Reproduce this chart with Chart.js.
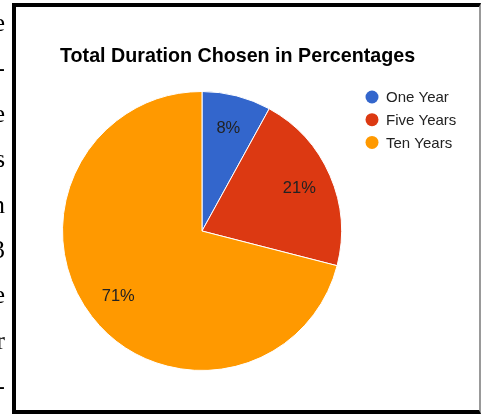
<!DOCTYPE html>
<html lang="en">
  <head>
    <meta charset="utf-8" />
    <style>
      * {
        margin: 0;
        padding: 0;
      }
      body {
        width: 482px;
        height: 415px;
        background: #fff;
        position: relative;
        overflow: hidden;
      }
      #myChart {
        position: absolute;
        left: 0;
        top: 0;
      }
      .frame {
        position: absolute;
        left: 12px;
        top: 3px;
        width: 463px;
        height: 403px;
        border: 4px solid #000;
        border-right: 2px solid #999;
        pointer-events: none;
      }
      .margin-text {
        position: absolute;
        left: 0;
        top: 0;
        width: 5px;
        overflow: hidden;
        white-space: nowrap;
        direction: rtl;
        font-family: "Liberation Serif", "DejaVu Serif", serif;
        font-size: 26px;
        line-height: 45.4px;
        color: #000;
        will-change: transform;
        -webkit-font-smoothing: antialiased;
      }
    </style>
  </head>
  <body>
    <div class="margin-text">e<br />-<br />e<br />s<br />n<br />3<br />e<br />r<br />-</div>
    <canvas id="myChart" width="482" height="415"></canvas>
    <div class="frame"></div>

    <script src="https://cdn.jsdelivr.net/npm/chart.js/dist/chart.umd.min.js"></script>
    <script>
      // data
      const titleText = "Total Duration Chosen in Percentages";
      const durations = ["One Year", "Five Years", "Ten Years"];
      const shares = [8, 21, 71];
      const sliceColors = ["#3366cc", "#dc3912", "#ff9900"];

      // title, legend and percentage labels drawn onto the canvas
      const overlay = {
        id: "overlay",
        afterDraw(chart) {
          const ctx = chart.ctx;
          ctx.save();

          ctx.font = 'bold 19.7px "Liberation Sans", Arial, sans-serif';
          ctx.fillStyle = "#000";
          ctx.textAlign = "left";
          ctx.textBaseline = "alphabetic";
          ctx.fillText(titleText, 60, 62);

          ctx.font = '15px "Liberation Sans", Arial, sans-serif';
          ctx.textBaseline = "middle";
          durations.forEach((name, i) => {
            const y = 97 + i * 22.7;
            ctx.beginPath();
            ctx.arc(372, y, 6.5, 0, Math.PI * 2);
            ctx.fillStyle = sliceColors[i];
            ctx.fill();
            ctx.fillStyle = "#222";
            ctx.fillText(name, 386, y + 1);
          });

          const total = shares.reduce((a, b) => a + b, 0);
          const meta = chart.getDatasetMeta(0);
          ctx.font = '16.5px "Liberation Sans", Arial, sans-serif';
          ctx.textAlign = "center";
          ctx.fillStyle = "#222";
          meta.data.forEach((arc, i) => {
            const p = arc.getProps(["x", "y", "startAngle", "endAngle", "outerRadius"], true);
            const mid = (p.startAngle + p.endAngle) / 2;
            const r = p.outerRadius * 0.76;
            const pct = Math.round((shares[i] / total) * 100) + "%";
            ctx.fillText(pct, p.x + Math.cos(mid) * r, p.y + Math.sin(mid) * r);
          });

          ctx.restore();
        },
      };

      const config = {
        type: "pie",
        data: {
          labels: durations,
          datasets: [
            {
              data: shares,
              backgroundColor: sliceColors,
              borderColor: "#fff",
              borderWidth: 1,
            },
          ],
        },
        options: {
          responsive: false,
          animation: false,
          layout: {
            padding: { left: 62, top: 91, right: 140, bottom: 44 },
          },
          plugins: {
            legend: { display: false },
            title: { display: false },
            tooltip: { enabled: false },
          },
        },
        plugins: [overlay],
      };

      const myChart = new Chart(document.getElementById("myChart"), config);
    </script>
  </body>
</html>
